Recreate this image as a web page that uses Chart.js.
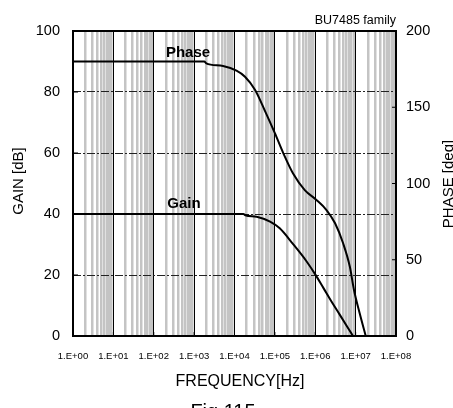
<!DOCTYPE html>
<html>
<head>
<meta charset="utf-8">
<script src="https://cdn.jsdelivr.net/npm/chart.js@4.4.1/dist/chart.umd.min.js"></script>
<style>
html, body { margin:0; padding:0; background:#fff; }
#wrap { width:453px; height:408px; position:relative; }
</style>
</head>
<body>
<div id="wrap"><canvas id="myChart"></canvas></div>
<script>
// values
var gainFreq  = [1, 1e3, 1.66e4, 1.86e4, 3.55e4, 7.6e4, 1.32e5, 2.8e5, 6.0e5, 1e6, 1.6e6, 2.5e6, 4e6, 6.3e6, 8.6e6];
var gainDb    = [40, 40, 40, 39.6, 39.1, 37.5, 35.3, 30.2, 24.6, 20.2, 15.7, 11.4, 7.1, 2.9, 0];

var phaseFreq = [1, 1.78e3, 2e3, 5.2e3, 1.12e4, 1.82e4, 3.24e4, 5.6e4, 1e5, 1.62e5, 2.8e5, 5.5e5, 1.07e6, 1.9e6, 3.1e6, 4.9e6, 7.2e6, 9.1e6, 1.26e7, 1.78e7];
var phaseDeg  = [180, 180, 178.8, 177, 174, 170, 161.3, 148, 133, 119.8, 106.7, 95.7, 89.2, 82.6, 73.9, 60.8, 45.4, 30.2, 14.9, 0];

var decadeTicks  = [1, 1e1, 1e2, 1e3, 1e4, 1e5, 1e6, 1e7, 1e8];
var decadeLabels = ['1.E+00','1.E+01','1.E+02','1.E+03','1.E+04','1.E+05','1.E+06','1.E+07','1.E+08'];
var minorSteps   = [2, 3, 4, 5, 6, 7, 8, 9];
var gainTicks    = [0, 20, 40, 60, 80, 100];
var phaseTicks   = [0, 50, 100, 150, 200];

var FONT = "'Liberation Sans', Arial, sans-serif";

function isDecade(v) {
  var l = Math.log10(v);
  return Math.abs(l - Math.round(l)) < 1e-9;
}

function pairs(xs, ys) {
  var out = [];
  for (var i = 0; i < xs.length; i++) out.push({x: xs[i], y: ys[i]});
  return out;
}

var extras = {
  id: 'extras',
  afterDraw: function(chart) {
    var c = chart.ctx, a = chart.chartArea;
    var sx = chart.scales.x, sy = chart.scales.y, sy1 = chart.scales.y1;
    c.save();
    c.strokeStyle = '#000';
    c.lineWidth = 1;
    // inward tick marks
    c.beginPath();
    gainTicks.forEach(function(t) { var y = sy.getPixelForValue(t); c.moveTo(a.left, y); c.lineTo(a.left + 5, y); });
    phaseTicks.forEach(function(t) { var y = sy1.getPixelForValue(t); c.moveTo(a.right - 4, y); c.lineTo(a.right, y); });
    decadeTicks.forEach(function(t) { var x = sx.getPixelForValue(t); c.moveTo(x, a.bottom); c.lineTo(x, a.bottom - 4); });
    c.stroke();
    // frame
    c.lineWidth = 2;
    c.strokeRect(a.left, a.top, a.right - a.left, a.bottom - a.top);

    c.fillStyle = '#000';
    c.font = 'bold 15px ' + FONT;
    c.textAlign = 'center';
    c.textBaseline = 'alphabetic';
    c.fillText('Phase', 188, 57);
    c.fillText('Gain', 184, 208);

    c.font = '12.5px ' + FONT;
    c.textAlign = 'right';
    c.fillText('BU7485 family', 396, 24);

    c.font = '16px ' + FONT;
    c.textAlign = 'center';
    c.fillText('FREQUENCY[Hz]', 240, 386);

    c.font = '20px ' + FONT;
    c.fillText('Fig.115', 223, 418);

    c.font = '15px ' + FONT;
    c.save();
    c.translate(23, 181);
    c.rotate(-Math.PI / 2);
    c.fillText('GAIN [dB]', 0, 0);
    c.restore();
    c.save();
    c.translate(452.5, 184);
    c.rotate(-Math.PI / 2);
    c.fillText('PHASE [deg]', 0, 0);
    c.restore();
    c.restore();
  }
};

var ctx = document.getElementById('myChart').getContext('2d');
var chart = new Chart(ctx, {
  type: 'line',
  data: {
    datasets: [
      { label: 'Gain', data: pairs(gainFreq, gainDb), yAxisID: 'y',
        borderColor: '#000', borderWidth: 2, pointRadius: 0, cubicInterpolationMode: 'monotone' },
      { label: 'Phase', data: pairs(phaseFreq, phaseDeg), yAxisID: 'y1',
        borderColor: '#000', borderWidth: 2, pointRadius: 0, cubicInterpolationMode: 'monotone' }
    ]
  },
  options: {
    responsive: true,
    maintainAspectRatio: false,
    animation: false,
    layout: { padding: { top: 31, left: 0, right: 0, bottom: 0 } },
    plugins: { legend: { display: false }, tooltip: { enabled: false } },
    scales: {
      x: {
        type: 'logarithmic', min: 1, max: 1e8,
        afterBuildTicks: function(s) {
          var t = [];
          decadeTicks.forEach(function(d, i) {
            t.push({ value: d });
            if (i < decadeTicks.length - 1) minorSteps.forEach(function(m) { t.push({ value: d * m }); });
          });
          s.ticks = t;
        },
        afterFit: function(s) { s.height = 72; },
        ticks: {
          autoSkip: false, maxRotation: 0, padding: 15, color: '#000',
          font: { family: FONT, size: 9.5 },
          callback: function(v) {
            var i = decadeTicks.indexOf(v);
            if (i < 0 && isDecade(v)) i = Math.round(Math.log10(v));
            return i >= 0 ? decadeLabels[i] : '';
          }
        },
        grid: {
          drawTicks: false,
          color: function(c) { return c.tick && isDecade(c.tick.value) ? '#000' : '#c4c4c4'; },
          lineWidth: function(c) { return c.tick && isDecade(c.tick.value) ? 1 : 2.5; }
        },
        border: { display: false }
      },
      y: {
        position: 'left', min: 0, max: 100,
        afterBuildTicks: function(s) { s.ticks = gainTicks.map(function(v) { return { value: v }; }); },
        afterFit: function(s) { s.width = 73; },
        ticks: { padding: 13, color: '#000', font: { family: FONT, size: 14.5 } },
        grid: { drawTicks: false, color: '#222', lineWidth: 1 },
        border: { display: false, dash: [8, 2, 2, 2] }
      },
      y1: {
        position: 'right', min: 0, max: 200,
        afterBuildTicks: function(s) { s.ticks = phaseTicks.map(function(v) { return { value: v }; }); },
        afterFit: function(s) { s.width = 57; },
        ticks: { padding: 10, color: '#000', font: { family: FONT, size: 14.5 } },
        grid: { display: false, drawTicks: false },
        border: { display: false }
      }
    }
  },
  plugins: [extras]
});
</script>
</body>
</html>
